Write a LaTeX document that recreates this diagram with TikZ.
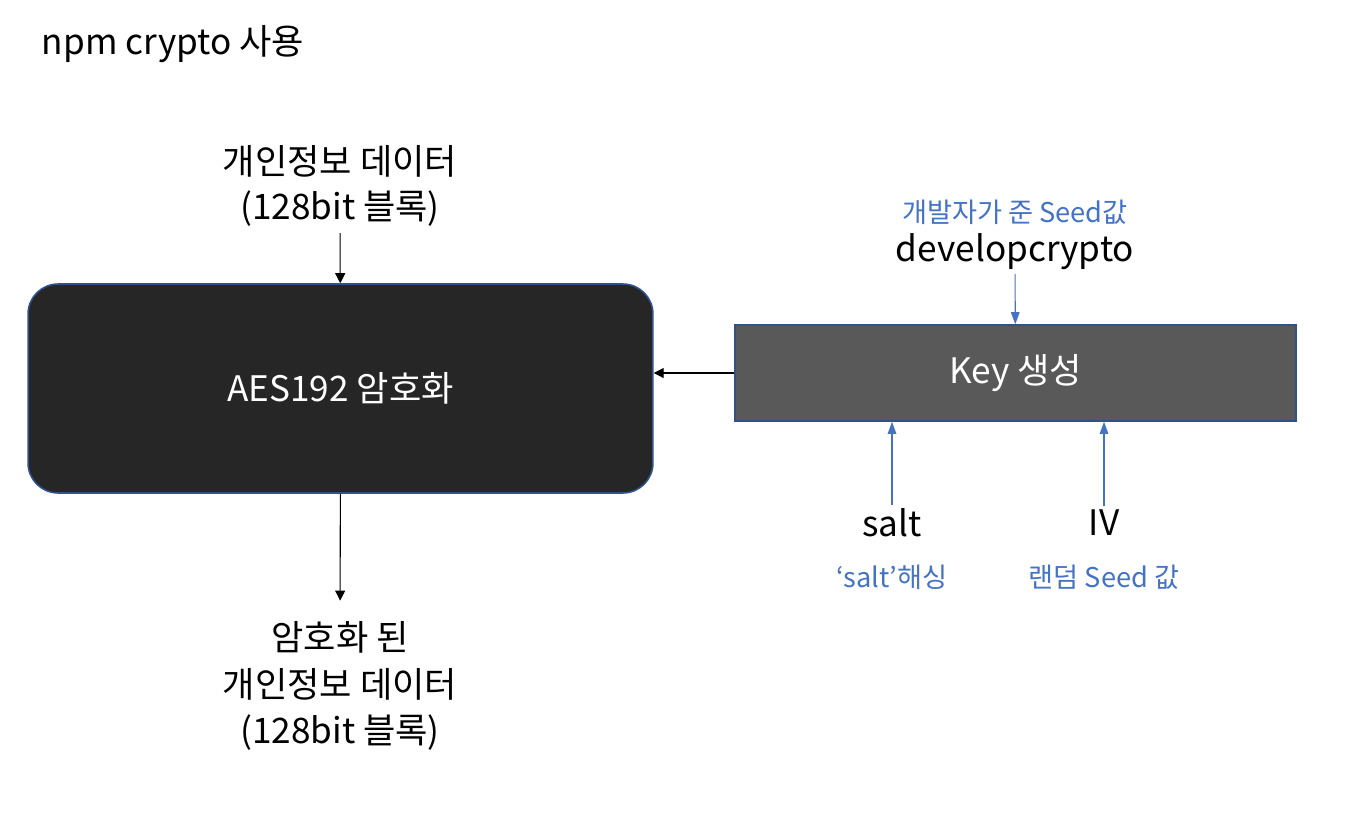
\documentclass[tikz,border=0pt]{standalone}
\usepackage{fontspec}
\setmainfont{Noto Sans CJK KR}
\usetikzlibrary{arrows.meta,positioning}
\definecolor{boxdark}{HTML}{262626}
\definecolor{boxgrey}{HTML}{595959}
\definecolor{edgeblue}{HTML}{2F528F}
\definecolor{noteblue}{HTML}{4472C4}

\begin{document}
\begin{tikzpicture}[x=0.02cm,y=-0.02cm,
			txt/.style={align=center,inner sep=2pt,font=\fontsize{20}{25.5}\selectfont},
			note/.style={inner sep=2pt,text=noteblue,font=\fontsize{15.5}{18}\selectfont},
			enc/.style={draw=edgeblue,line width=0.9pt,fill=boxdark,rounded corners=0.6cm,minimum width=12.5cm,minimum height=4.18cm,text=white,font=\fontsize{20}{24}\selectfont},
			keybox/.style={draw=edgeblue,line width=0.9pt,fill=boxgrey,minimum width=11.22cm,minimum height=1.92cm,text=white,font=\fontsize{20}{24}\selectfont},
			arr/.style={-{Triangle[length=0.2cm,width=0.2cm]},line width=0.6pt,black},
			barr/.style={-{Triangle[length=0.24cm,width=0.17cm]},line width=0.6pt,noteblue}
			]
			\useasboundingbox (0,0) rectangle (1364,814);
			\node[txt,anchor=west] (title) at (38,44) {npm crypto 사용};
			\node[enc] (aes) at (340.5,388.5) {AES192 암호화};
			\node[txt] (in) at (340,186) {개인정보 데이터\\(128bit 블록)};
			\node[txt,font=\fontsize{20}{26.5}\selectfont] (out) at (340,686) {암호화 된\\개인정보 데이터\\(128bit 블록)};
			\node[keybox] (key) at (1015.5,373) {Key 생성};
			\node[txt] (dev) at (1015,252) {developcrypto};
			\node[note] (devn) at (1015,212) {개발자가 준 Seed값};
			\node[txt] (salt) at (892,523) {salt};
			\node[txt] (iv) at (1104,523) {IV};
			\node[note] (saltn) at (892,577) {‘salt’해싱};
			\node[note] (ivn) at (1104,577) {랜덤 Seed 값};
			\draw[arr,shorten <=0.06cm] (in) -- (aes);
			\draw[arr,shorten >=0.34cm] (aes) -- (out);
			\draw[arr] (key.west) -- (aes.east |- key.west);
			\draw[barr] (dev) -- (key);
			\draw[barr] (salt) -- (salt |- key.south);
			\draw[barr] (iv) -- (iv |- key.south);
		\end{tikzpicture}
\end{document}
